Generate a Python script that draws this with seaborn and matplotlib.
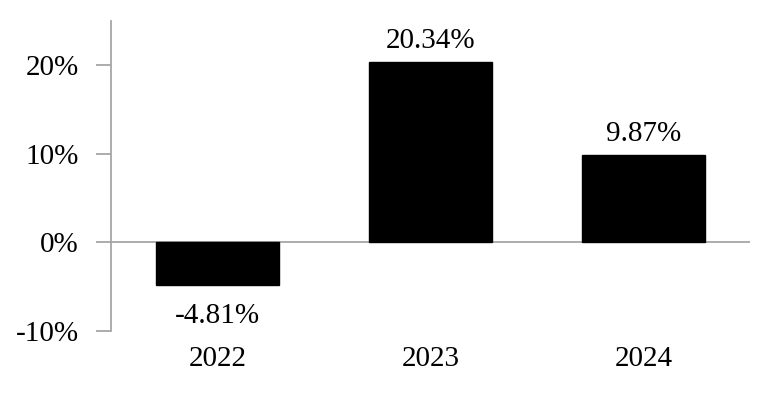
import matplotlib
matplotlib.use("Agg")
import matplotlib.pyplot as plt
import seaborn as sns
import pandas as pd
from matplotlib.ticker import FuncFormatter

years = ["2022", "2023", "2024"]
returns = [-4.81, 20.34, 9.87]
yticks = [-10, 0, 10, 20]

sns.set_theme(style="white")
plt.rcParams['font.family'] = ['Liberation Serif', 'DejaVu Serif']

df = pd.DataFrame({"year": years, "ret": returns})

fig = plt.figure(figsize=(7.68, 4.0), dpi=100)
ax = fig.add_axes([111/768, 1 - 331/400, (750-111)/768, (331-21)/400])
sns.barplot(data=df, x="year", y="ret", color="black", width=0.575,
            saturation=1, ax=ax, edgecolor="black")
ax.set_xlim(-0.5, 2.5)
ax.set_ylim(-10, 25)
ax.set_yticks(yticks)
ax.yaxis.set_major_formatter(FuncFormatter(lambda v, p: f"{v:.0f}%"))
ax.set_xlabel("")
ax.set_ylabel("")
gray = "#a6a6a6"
for s in ["top", "right", "bottom"]:
    ax.spines[s].set_visible(False)
ax.spines["left"].set_color(gray)
ax.spines["left"].set_linewidth(1.3)
ax.axhline(0, color=gray, lw=1.3, zorder=0.5)
ax.tick_params(axis="y", which="major", length=11, width=1.3, color=gray,
               left=True, labelsize=21, pad=12, labelcolor="black")
ax.tick_params(axis="x", length=0, labelsize=21, pad=11, labelcolor="black")

for i, v in enumerate(returns):
    if v >= 0:
        ax.annotate(f"{v:.2f}%", (i, v), xytext=(0, 6), textcoords="offset points",
                    ha="center", va="bottom", fontsize=21, color="black")
    else:
        ax.annotate(f"{v:.2f}%", (i, v), xytext=(0, -13), textcoords="offset points",
                    ha="center", va="top", fontsize=21, color="black")

fig.savefig("out.png", dpi=100, facecolor="white")
